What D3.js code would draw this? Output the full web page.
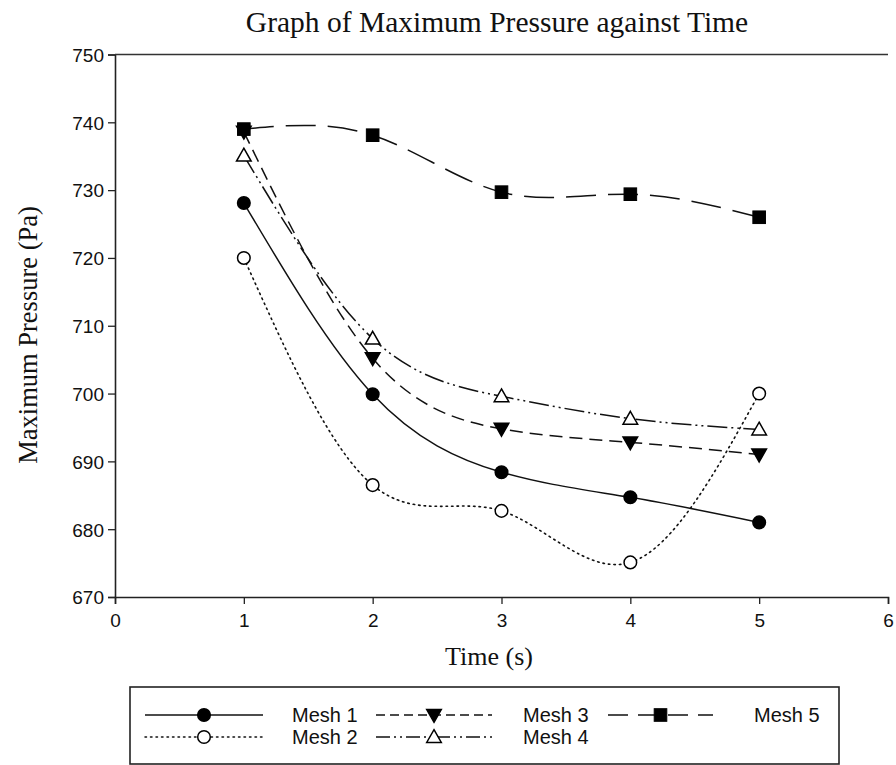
<!DOCTYPE html>
<html>
<head>
<meta charset="utf-8">
<script src="https://cdn.jsdelivr.net/npm/d3@7"></script>
<style>
  html, body { margin: 0; padding: 0; background: #fff; }
  svg { display: block; }
</style>
</head>
<body>
<svg id="chart" width="896" height="765"></svg>
<script>
// ---- Data ----
const times = [1, 2, 3, 4, 5];
const seriesNames = ["Mesh 1", "Mesh 2", "Mesh 3", "Mesh 4", "Mesh 5"];
const mesh1 = [728.1, 699.9, 688.4, 684.7, 681.0];
const mesh2 = [720.0, 686.5, 682.7, 675.1, 700.0];
const mesh3 = [738.6, 705.2, 694.8, 692.8, 691.0];
const mesh4 = [735.1, 708.1, 699.6, 696.3, 694.7];
const mesh5 = [739.0, 738.1, 729.7, 729.4, 726.0];
const xTicks = [0, 1, 2, 3, 4, 5, 6];
const yTicks = [670, 680, 690, 700, 710, 720, 730, 740, 750];

const titleText = "Graph of Maximum Pressure against Time";
const xLabel = "Time (s)";
const yLabel = "Maximum Pressure (Pa)";

// ---- Styles ----
const styles = [
  { dash: null, marker: "circle", fill: "#000" },
  { dash: "1.5,4", marker: "circle", fill: "#fff" },
  { dash: "13,7", marker: "triDown", fill: "#000" },
  { dash: "20,4,2,4,2,4", marker: "triUp", fill: "#fff" },
  { dash: "30,12", marker: "square", fill: "#000" }
];
const allSeries = [mesh1, mesh2, mesh3, mesh4, mesh5];

const svg = d3.select("#chart");
const pLeft = 115, pRight = 888, pTop = 54.5, pBottom = 597;

const x = d3.scaleLinear().domain([0, 6]).range([pLeft, pRight]);
const y = d3.scaleLinear().domain([670, 750]).range([pBottom, pTop]);

// Title
svg.append("text")
  .attr("x", 497).attr("y", 32)
  .attr("text-anchor", "middle")
  .attr("font-family", "Liberation Serif, Times New Roman, serif")
  .attr("font-size", 29.5)
  .attr("fill", "#111")
  .text(titleText);

// Axes
const xAxis = svg.append("g")
  .attr("transform", `translate(0,${pBottom})`)
  .call(d3.axisBottom(x).tickValues(xTicks).tickFormat(d3.format("d")).tickSizeOuter(0).tickSize(7).tickPadding(10));
const yAxis = svg.append("g")
  .attr("transform", `translate(${pLeft},0)`)
  .call(d3.axisLeft(y).tickValues(yTicks).tickFormat(d3.format("d")).tickSizeOuter(0).tickSize(7).tickPadding(4));
[xAxis, yAxis].forEach(g => {
  g.selectAll("path.domain").attr("stroke", "#222").attr("stroke-width", 1.6);
  g.selectAll(".tick line").attr("stroke", "#222").attr("stroke-width", 1.3);
  g.selectAll(".tick text")
    .attr("font-family", "Liberation Sans, Arial, sans-serif")
    .attr("font-size", 19).attr("fill", "#111");
});
yAxis.selectAll(".tick text").attr("dy", "0.36em");

// Top frame line
svg.append("line")
  .attr("x1", pLeft).attr("x2", pRight)
  .attr("y1", pTop).attr("y2", pTop)
  .attr("stroke", "#333").attr("stroke-width", 1.6);

// Axis labels
svg.append("text")
  .attr("x", 489).attr("y", 665)
  .attr("text-anchor", "middle")
  .attr("font-family", "Liberation Serif, Times New Roman, serif")
  .attr("font-size", 26).attr("fill", "#111")
  .text(xLabel);
svg.append("text")
  .attr("transform", `translate(37,335) rotate(-90)`)
  .attr("text-anchor", "middle")
  .attr("font-family", "Liberation Serif, Times New Roman, serif")
  .attr("font-size", 26.5).attr("fill", "#111")
  .text(yLabel);

// Marker drawing
function drawMarker(g, type, cx, cy, fill) {
  const sw = 1.5;
  if (type === "circle") {
    g.append("circle").attr("cx", cx).attr("cy", cy).attr("r", 6.3)
      .attr("fill", fill).attr("stroke", "#000").attr("stroke-width", sw);
  } else if (type === "square") {
    g.append("rect").attr("x", cx - 6.3).attr("y", cy - 6.3)
      .attr("width", 12.6).attr("height", 12.6)
      .attr("fill", fill).attr("stroke", "#000").attr("stroke-width", 1);
  } else if (type === "triUp") {
    const s = 7.3;
    g.append("path")
      .attr("d", `M${cx},${cy - s} L${cx + s},${cy + s * 0.75} L${cx - s},${cy + s * 0.75} Z`)
      .attr("fill", fill).attr("stroke", "#000").attr("stroke-width", sw);
  } else if (type === "triDown") {
    const s = 7.3;
    g.append("path")
      .attr("d", `M${cx},${cy + s} L${cx + s},${cy - s * 0.75} L${cx - s},${cy - s * 0.75} Z`)
      .attr("fill", fill).attr("stroke", "#000").attr("stroke-width", sw);
  }
}

// Lines
const line = d3.line()
  .x((d, i) => x(times[i]))
  .y(d => y(d))
  .curve(d3.curveNatural);

const plot = svg.append("g");
allSeries.forEach((vals, k) => {
  plot.append("path")
    .attr("d", line(vals))
    .attr("fill", "none")
    .attr("stroke", "#111")
    .attr("stroke-width", k === 1 ? 1.6 : 1.5)
    .attr("stroke-dasharray", styles[k].dash)
    .attr("stroke-linecap", k === 1 ? "round" : "butt");
});
// Markers
allSeries.forEach((vals, k) => {
  const g = plot.append("g");
  vals.forEach((v, i) => drawMarker(g, styles[k].marker, x(times[i]), y(v), styles[k].fill));
});

// Legend
const legend = svg.append("g");
legend.append("rect")
  .attr("x", 130).attr("y", 687)
  .attr("width", 709).attr("height", 77)
  .attr("fill", "#fff").attr("stroke", "#222").attr("stroke-width", 1.6);

const legendCols = [
  { x0: 145, x1: 263, tx: 292 },
  { x0: 376, x1: 492, tx: 523 },
  { x0: 608, x1: 713, tx: 754 }
];
const legendRows = [715, 737];
const legendDash = [null, "1.5,4", "9,5", "14,4,2,4,2,4", "20,10"];

seriesNames.forEach((name, k) => {
  const col = legendCols[Math.floor(k / 2)];
  const ry = legendRows[k % 2];
  const mx = (col.x0 + col.x1) / 2;
  legend.append("line")
    .attr("x1", col.x0).attr("x2", col.x1)
    .attr("y1", ry).attr("y2", ry)
    .attr("stroke", "#111").attr("stroke-width", 1.5)
    .attr("stroke-dasharray", legendDash[k])
    .attr("stroke-linecap", k === 1 ? "round" : "butt");
  drawMarker(legend, styles[k].marker, mx, ry, styles[k].fill);
  legend.append("text")
    .attr("x", col.tx).attr("y", ry + 7)
    .attr("font-family", "Liberation Sans, Arial, sans-serif")
    .attr("font-size", 20).attr("fill", "#111")
    .text(name);
});
</script>
</body>
</html>
